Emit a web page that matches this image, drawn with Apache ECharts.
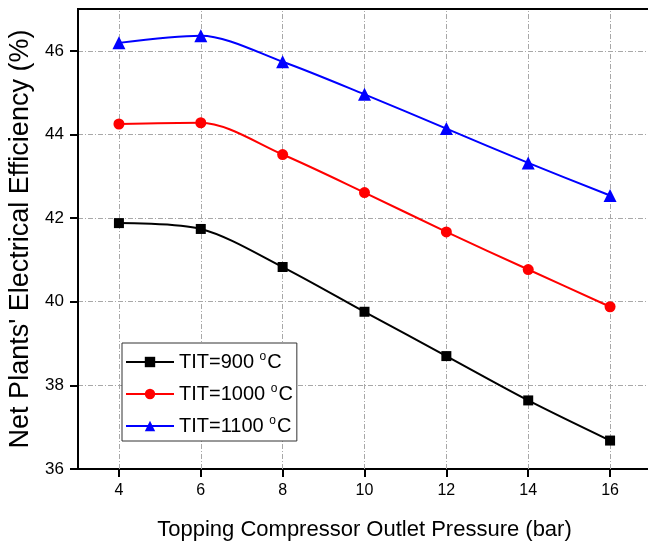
<!DOCTYPE html>
<html>
<head>
<meta charset="utf-8">
<script src="https://cdn.jsdelivr.net/npm/echarts@6/dist/echarts.min.js"></script>
<style>
html,body{margin:0;padding:0;background:#fff;}
#c{width:648px;height:543px;}
</style>
</head>
<body>
<div id="c"></div>
<script>
// Data
const xTicks = [4, 6, 8, 10, 12, 14, 16];
const yTicks = [36, 38, 40, 42, 44, 46];
const pressure = [4, 6, 8, 10, 12, 14, 16];
const tit900 = [41.88, 41.74, 40.83, 39.76, 38.70, 37.64, 36.68];
const tit1000 = [44.25, 44.28, 43.52, 42.61, 41.67, 40.77, 39.88];
const tit1100 = [46.19, 46.36, 45.74, 44.96, 44.14, 43.32, 42.54];
const seriesNames = ['TIT=900 °C', 'TIT=1000 °C', 'TIT=1100 °C'];
const xTitle = 'Topping Compressor Outlet Pressure (bar)';
const yTitle = "Net Plants' Electrical Efficiency (%)";

const FONT = 'Liberation Sans, Arial, sans-serif';
const pairs = arr => pressure.map((p, i) => [p, arr[i]]);
const gridLineStyle = {color: '#a8a8a8', width: 1, type: [5, 2, 1, 2]};

const chart = echarts.init(document.getElementById('c'), null, {renderer: 'canvas'});

function mk(name, data, color, symbol, size) {
  return {
    name: name, type: 'line', data: data, smooth: 0.3,
    symbol: symbol, symbolSize: size,
    lineStyle: {color: color, width: 2},
    itemStyle: {color: color},
    emphasis: {disabled: true},
    animation: false, z: 5
  };
}

const s1 = mk(seriesNames[0], pairs(tit900), '#000000', 'rect', 10);
// vertical grid lines at the x tick values, placed through the x scale
s1.markLine = {
  silent: true, animation: false, z: 1,
  symbol: ['none', 'none'],
  label: {show: false},
  emphasis: {disabled: true},
  lineStyle: gridLineStyle,
  data: xTicks.map(v => ({xAxis: v}))
};

chart.setOption({
  animation: false,
  backgroundColor: '#fff',
  grid: {left: 78, top: 9, width: 573, height: 460, containLabel: false, outerBoundsMode: 'none',
    show: true, borderColor: '#000', borderWidth: 2, backgroundColor: 'transparent'},
  legend: {
    orient: 'vertical', left: 122, top: 343,
    itemWidth: 48, itemHeight: 13, itemGap: 11,
    borderColor: '#333', borderWidth: 1, borderRadius: 0,
    padding: [8, 4, 5, 3],
    backgroundColor: '#fff',
    data: seriesNames,
    formatter: name => '{n|' + name.replace(' °C', ' ') + '}{s|o}{n|C}',
    textStyle: {
      fontFamily: FONT, color: '#000', fontSize: 20,
      rich: {
        n: {fontFamily: FONT, fontSize: 20, color: '#000'},
        s: {fontFamily: FONT, fontSize: 12, color: '#000', verticalAlign: 'top', padding: [0, 1, 10, 0]}
      }
    }
  },
  xAxis: {
    type: 'value', min: 3, max: 17,
    name: xTitle, nameLocation: 'middle', nameGap: 50,
    nameTextStyle: {fontFamily: FONT, fontSize: 22, color: '#000'},
    axisLine: {show: true, lineStyle: {color: '#000', width: 2}},
    axisTick: {show: true, length: 8, inside: false, customValues: xTicks, lineStyle: {color: '#000', width: 2}},
    axisLabel: {margin: 14, fontFamily: FONT, fontSize: 16, color: '#000', customValues: xTicks},
    splitLine: {show: false}
  },
  yAxis: {
    type: 'value', min: 36, max: 47,
    name: yTitle, nameLocation: 'middle', nameGap: 38, nameRotate: 90,
    nameTextStyle: {fontFamily: FONT, fontSize: 27, color: '#000'},
    axisLine: {show: true, lineStyle: {color: '#000', width: 2}},
    axisTick: {show: true, length: 8, customValues: yTicks, lineStyle: {color: '#000', width: 2}},
    axisLabel: {margin: 14, fontFamily: FONT, fontSize: 17, color: '#000', customValues: yTicks},
    splitLine: {show: true, lineStyle: gridLineStyle}
  },
  series: [
    s1,
    mk(seriesNames[1], pairs(tit1000), '#ff0000', 'circle', 11),
    mk(seriesNames[2], pairs(tit1100), '#0000ff', 'triangle', 13)
  ]
});
</script>
</body>
</html>
